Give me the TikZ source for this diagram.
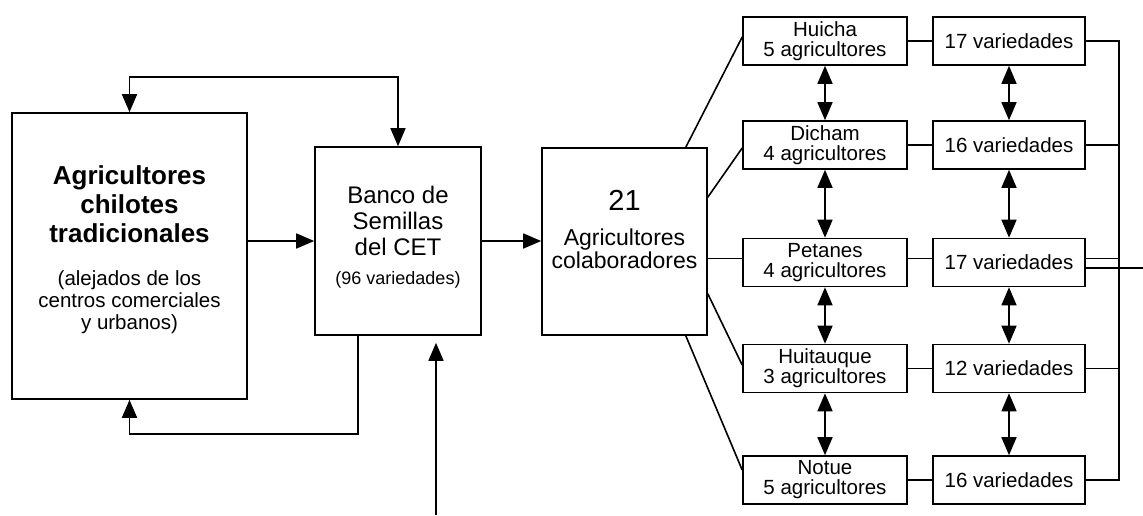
\documentclass[tikz,border=0pt]{standalone}
\usepackage{fontspec}
\setmainfont{Liberation Sans}
\usetikzlibrary{arrows.meta,calc}

\begin{document}
\begin{tikzpicture}[x=1pt,y=-1pt,
    box/.style={draw, line width=1.6pt, inner sep=0pt, align=center},
    farm/.style={box, minimum width=164pt, minimum height=48pt, font=\fontsize{20.5}{20}\selectfont},
    variety/.style={box, minimum width=152pt, minimum height=48pt, font=\fontsize{20.5}{20}\selectfont},
    link/.style={line width=1.6pt},
    arr/.style={link, -{Triangle[length=18pt,width=15pt]}},
    dblarr/.style={link, {Triangle[length=18pt,width=15pt]}-{Triangle[length=18pt,width=15pt]}}]
    \useasboundingbox (0,0) rectangle (1143,515);

    % Main boxes
    \node[box, minimum width=235pt, minimum height=286pt, font=\fontsize{26}{29}\selectfont\bfseries] (agri) at (129.5,256)
        {Agricultores\\chilotes\\tradicionales\\[14pt]
         {\fontsize{20.5}{22}\selectfont\mdseries\begin{tabular}[t]{@{}c@{}}(alejados de los\\centros comerciales\\y urbanos)\rule[-16pt]{0pt}{16pt}\end{tabular}}};
    \node[box, minimum width=166pt, minimum height=188pt, font=\fontsize{24}{26}\selectfont] (banco) at (398,241)
        {Banco de\\Semillas\\del CET\\[3pt] {\fontsize{18}{24}\selectfont (96 variedades)\rule[-12pt]{0pt}{12pt}}};
    \node[box, minimum width=165pt, minimum height=187pt, font=\fontsize{23}{23}\selectfont] (colab) at (624.5,241.5)
        {{\fontsize{29}{32}\selectfont 21}\\[12pt]Agricultores\\colaboradores\rule[-25pt]{0pt}{25pt}};

    % Farms
    \node[farm] (f1) at (825,41) {Huicha\\5 agricultores};
    \node[farm] (f2) at (825,145) {Dicham\\4 agricultores};
    \node[farm] (f3) at (825,262.5) {Petanes\\4 agricultores};
    \node[farm] (f4) at (825,368.5) {Huitauque\\3 agricultores};
    \node[farm] (f5) at (825,480) {Notue\\5 agricultores};

    % Varieties per farm
    \node[variety] (v1) at (1009,41) {17 variedades};
    \node[variety] (v2) at (1009,145) {16 variedades};
    \node[variety] (v3) at (1009,262.5) {17 variedades};
    \node[variety] (v4) at (1009,368.5) {12 variedades};
    \node[variety] (v5) at (1009,480) {16 variedades};

    % Loops between farmers and seed bank
    \draw[dblarr] (banco.north) -- ++(0,-69) -| (agri.north);
    \draw[arr] ([xshift=-40pt]banco.south) -- ++(0,98) -| (agri.south);
    \draw[arr] (agri.east |- banco.west) -- (banco.west);
    \draw[arr] (banco.east) -- (banco.east -| colab.west);
    \coordinate (feed) at (436,515);
    \draw[arr, shorten >=7pt] (feed) -- (feed |- banco.south);

    % Collaborators to farms
    \draw[link] ([xshift=-22pt]colab.north east) -- ([yshift=4pt]f1.west);
    \draw[link] ([yshift=-50pt]colab.north east) -- ([yshift=-3pt]f2.west);
    \draw[link] ([yshift=4pt]f3.west -| colab.east) -- ([yshift=4pt]f3.west);
    \draw[link] ([yshift=42pt]colab.south east) -- ([yshift=3.5pt]f4.west);
    \draw[link] ([xshift=-22pt]colab.south east) -- ([yshift=10pt]f5.west);

    % Farms to varieties
    \draw[link] (f1) -- (v1);
    \draw[link] (f2) -- (v2);
    \draw[link] ([yshift=4pt]f3.east) -- ([yshift=4pt]v3.west);
    \draw[link] (f4) -- (v4);
    \draw[link] (f5) -- (v5);

    % Exchange between neighbours
    \draw[dblarr] (f1) -- (f2);
    \draw[dblarr] (f2) -- (f3);
    \draw[dblarr] (f3) -- (f4);
    \draw[dblarr] (f4) -- (f5);
    \draw[dblarr] (v1) -- (v2);
    \draw[dblarr] (v2) -- (v3);
    \draw[dblarr] (v3) -- (v4);
    \draw[dblarr] (v4) -- (v5);

    % Collecting line
    \coordinate (bus) at (1119,0);
    \coordinate (out) at (1143,268);
    \draw[link] (v1.east) -| (bus |- v5.east) -- (v5.east);
    \draw[link] (v2.east) -- (v2.east -| bus);
    \draw[link] ([yshift=4pt]v3.east) -- ([yshift=4pt]v3.east -| bus);
    \draw[link] (v4.east) -- (v4.east -| bus);
    \draw[link] (v3.east |- out) -- (out);
\end{tikzpicture}
\end{document}
